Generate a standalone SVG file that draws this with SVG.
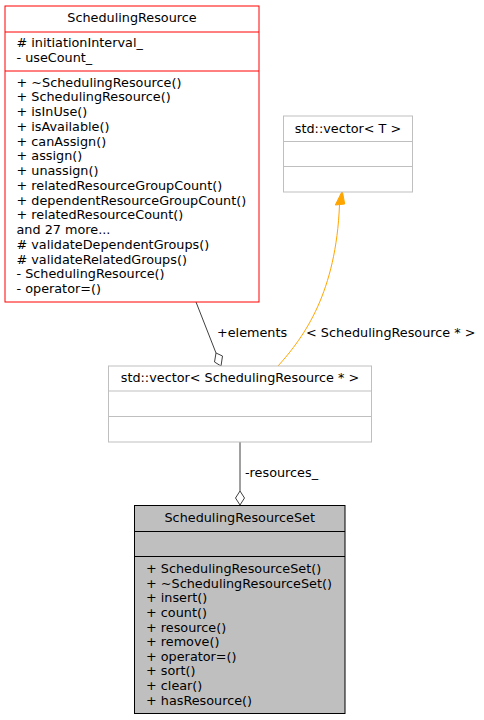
<svg xmlns="http://www.w3.org/2000/svg" width="484" height="720" viewBox="0 0 484 720">
<style>
text{font-family:"DejaVu Sans","Liberation Sans",sans-serif;font-size:12.8px;fill:#000}
.c{text-anchor:middle}
.red{fill:#fff;stroke:#ff0000;stroke-width:1}
.gry{fill:#fff;stroke:#bfbfbf;stroke-width:1}
.sel{fill:#bfbfbf;stroke:#000;stroke-width:1}
.e{fill:none;stroke:#404040;stroke-width:1}
.o{fill:none;stroke:#ffa500;stroke-width:1}
</style>
<rect width="484" height="720" fill="#fff"/>
<g id="edges">
<path class="e" d="M196,302 L216,353"/>
<polygon class="e" fill="#fff" points="221,366 222.5,356 216,353 214.5,362"/>
<text x="217" y="337">+elements</text>
<path class="o" d="M278,366 C305,336 336,292 339.5,205"/>
<polygon points="342.3,191 335.3,205 344.7,204" fill="#ffa500" stroke="#ffa500"/>
<text x="306" y="337">&lt; SchedulingResource * &gt;</text>
<path class="e" d="M240,442 L240,491"/>
<polygon class="e" fill="#fff" points="240,505 244.5,498 240,491 235.5,498"/>
<text x="245" y="477">-resources_</text>
</g>
<g id="SchedulingResource">
<rect class="red" x="5" y="6" width="254" height="296"/>
<line x1="5" y1="32" x2="259" y2="32" stroke="#ff0000"/>
<line x1="5" y1="71" x2="259" y2="71" stroke="#ff0000"/>
<text class="c" x="132" y="22">SchedulingResource</text>
<text x="16.5" y="47"># initiationInterval_</text>
<text x="16.5" y="61.75">- useCount_</text>
<text x="16.5" y="86.5">+ ~SchedulingResource()</text>
<text x="16.5" y="101.25">+ SchedulingResource()</text>
<text x="16.5" y="116">+ isInUse()</text>
<text x="16.5" y="130.75">+ isAvailable()</text>
<text x="16.5" y="145.5">+ canAssign()</text>
<text x="16.5" y="160.25">+ assign()</text>
<text x="16.5" y="175">+ unassign()</text>
<text x="16.5" y="189.75">+ relatedResourceGroupCount()</text>
<text x="16.5" y="204.5">+ dependentResourceGroupCount()</text>
<text x="16.5" y="219.25">+ relatedResourceCount()</text>
<text x="16.5" y="234">and 27 more...</text>
<text x="16.5" y="248.75"># validateDependentGroups()</text>
<text x="16.5" y="263.5"># validateRelatedGroups()</text>
<text x="16.5" y="278.25">- SchedulingResource()</text>
<text x="16.5" y="293">- operator=()</text>
</g>
<g id="vectorT">
<rect class="gry" x="283.5" y="116" width="129" height="76"/>
<line x1="283.5" y1="141.5" x2="412.5" y2="141.5" stroke="#bfbfbf"/>
<line x1="283.5" y1="166.5" x2="412.5" y2="166.5" stroke="#bfbfbf"/>
<text class="c" x="348" y="133">std::vector&lt; T &gt;</text>
</g>
<g id="vectorSR">
<rect class="gry" x="108.5" y="366" width="263" height="76"/>
<line x1="108.5" y1="391" x2="371.5" y2="391" stroke="#bfbfbf"/>
<line x1="108.5" y1="416.5" x2="371.5" y2="416.5" stroke="#bfbfbf"/>
<text class="c" x="240" y="382">std::vector&lt; SchedulingResource * &gt;</text>
</g>
<g id="SchedulingResourceSet">
<rect class="sel" x="134.5" y="505.5" width="210.5" height="208"/>
<line x1="134.5" y1="531.5" x2="345" y2="531.5" stroke="#000"/>
<line x1="134.5" y1="556.5" x2="345" y2="556.5" stroke="#000"/>
<text class="c" x="239.7" y="522">SchedulingResourceSet</text>
<text x="146" y="573">+ SchedulingResourceSet()</text>
<text x="146" y="587.6">+ ~SchedulingResourceSet()</text>
<text x="146" y="602.3">+ insert()</text>
<text x="146" y="616.9">+ count()</text>
<text x="146" y="631.5">+ resource()</text>
<text x="146" y="646.2">+ remove()</text>
<text x="146" y="660.8">+ operator=()</text>
<text x="146" y="675.4">+ sort()</text>
<text x="146" y="690">+ clear()</text>
<text x="146" y="704.7">+ hasResource()</text>
</g>
</svg>
